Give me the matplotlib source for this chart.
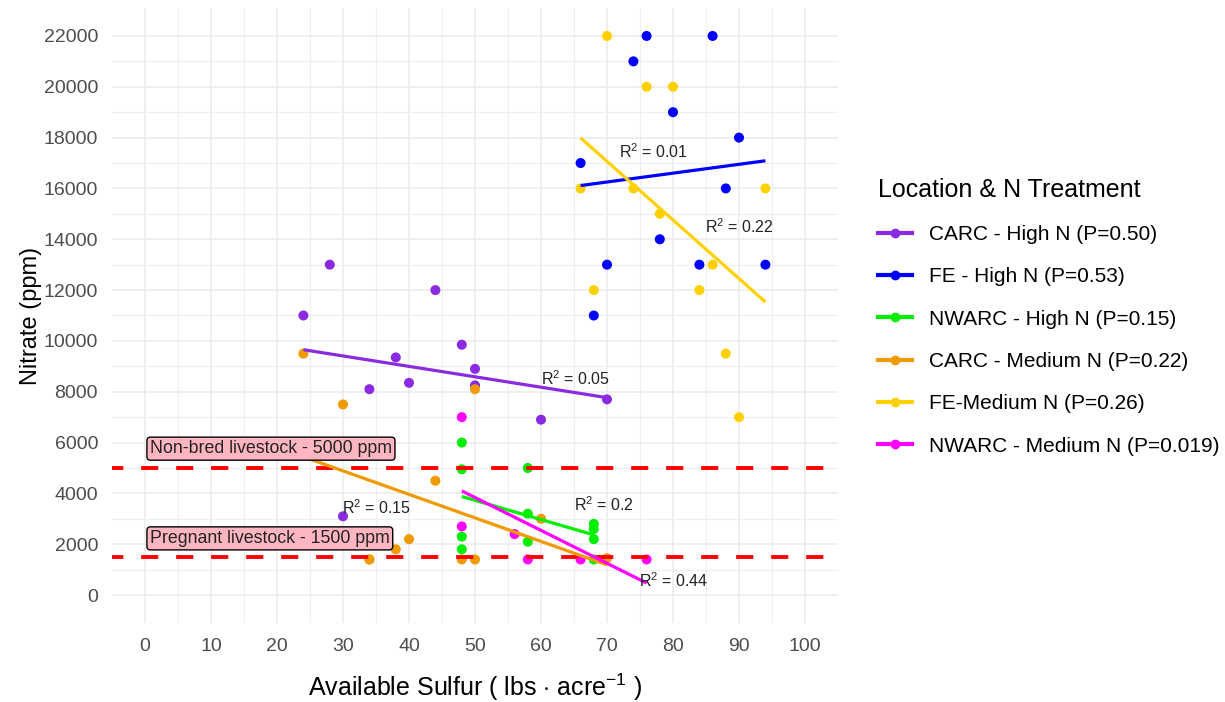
import numpy as np
import matplotlib
matplotlib.use('Agg')
import matplotlib.pyplot as plt
from matplotlib.lines import Line2D

plt.rcParams['font.family'] = ['Liberation Sans', 'DejaVu Sans']
plt.rcParams['mathtext.fontset'] = 'custom'
plt.rcParams['mathtext.rm'] = 'Liberation Sans'
plt.rcParams['mathtext.it'] = 'Liberation Sans'

# available sulfur (lbs/acre) and nitrate (ppm) per location / N treatment
carc_high_s = [24, 28, 30, 34, 38, 40, 44, 48, 50, 50, 60, 70]
carc_high_n = [11000, 13000, 3100, 8100, 9350, 8350, 12000, 9850, 8900, 8250, 6900, 7700]

fe_high_s = [66, 68, 70, 74, 76, 78, 80, 84, 86, 88, 90, 94]
fe_high_n = [17000, 11000, 13000, 21000, 22000, 14000, 19000, 13000, 22000, 16000, 18000, 13000]

nwarc_high_s = [48, 48, 48, 48, 58, 58, 58, 68, 68, 68, 68]
nwarc_high_n = [6000, 4950, 2300, 1800, 5000, 3200, 2100, 2800, 2600, 2200, 1400]

carc_med_s = [24, 30, 34, 34, 38, 40, 44, 48, 50, 50, 60, 70]
carc_med_n = [9500, 7500, 1400, 1400, 1800, 2200, 4500, 1400, 1400, 8100, 3000, 1450]

fe_med_s = [66, 68, 70, 74, 76, 78, 80, 84, 86, 88, 90, 94]
fe_med_n = [16000, 12000, 22000, 16000, 20000, 15000, 20000, 12000, 13000, 9500, 7000, 16000]

nwarc_med_s = [48, 48, 56, 58, 66, 76]
nwarc_med_n = [7000, 2700, 2400, 1400, 1400, 1400]

group_names = ['CARC - High N (P=0.50)', 'FE - High N (P=0.53)', 'NWARC - High N (P=0.15)',
               'CARC - Medium N (P=0.22)', 'FE-Medium N (P=0.26)', 'NWARC - Medium N (P=0.019)']
group_colors = ['#8A2BE2', '#0000FF', '#00EE00', '#EE9A00', '#FFD000', '#FF00FF']
r2_labels = ['0.05', '0.01', '0.2', '0.15', '0.22', '0.44']

thresholds = [5000, 1500]
threshold_labels = ['Non-bred livestock - 5000 ppm', 'Pregnant livestock - 1500 ppm']

groups = [(carc_high_s, carc_high_n), (fe_high_s, fe_high_n), (nwarc_high_s, nwarc_high_n),
          (carc_med_s, carc_med_n), (fe_med_s, fe_med_n), (nwarc_med_s, nwarc_med_n)]

fig = plt.figure(figsize=(12.25, 7.02), dpi=100)
ax = fig.add_axes([112 / 1225, 79 / 702, 726 / 1225, 615 / 702])

ax.set_xlim(-5, 105)
ax.set_ylim(-1100, 23100)
ax.set_xticks(np.arange(0, 101, 10))
ax.set_xticks(np.arange(5, 101, 10), minor=True)
ax.set_yticks(np.arange(0, 22001, 2000))
ax.set_yticks(np.arange(1000, 23000, 2000), minor=True)
ax.grid(which='major', color='#EBEBEB', lw=1.1)
ax.grid(which='minor', color='#EFEFEF', lw=0.8)
ax.set_axisbelow(True)
for sp in ax.spines.values():
    sp.set_visible(False)
ax.tick_params(which='both', length=0)
ax.tick_params(axis='x', labelsize=14, labelcolor='#4D4D4D', pad=11)
ax.tick_params(axis='y', labelsize=14, labelcolor='#4D4D4D', pad=10)

# threshold lines
for t in thresholds:
    ax.axhline(t, color='#FF0000', lw=2.8, ls=(1.5, (4.4, 4.6)), zorder=4)

# scatter points, then linear fits on top
for (s, n), c in zip(groups, group_colors):
    ax.scatter(s, n, s=52, color=c, edgecolors='none', zorder=3)
for (s, n), c in zip(groups, group_colors):
    slope, icpt = np.polyfit(s, n, 1)
    xs = np.array([min(s), max(s)])
    ax.plot(xs, icpt + slope * xs, color=c, lw=2.3, zorder=5, solid_capstyle='butt')

# R-squared annotations
r2_pos = [(65.2, 8520), (77.0, 17460), (69.5, 3550), (35.1, 3440), (90.1, 14490), (80.1, 550)]
for (x, y), r in zip(r2_pos, r2_labels):
    ax.text(x, y, r'$\mathrm{R}^{2}$' + ' = ' + r,
            ha='center', va='center', fontsize=11.5, color='#222222', zorder=6)

# threshold labels
for t, lab, yc in zip(thresholds, threshold_labels, [5760, 2230]):
    ax.text(0.75, yc, lab, ha='left', va='center', fontsize=12.8, color='#222222', zorder=7,
            bbox=dict(boxstyle='round,pad=0.17,rounding_size=0.2', fc='#FFB6C1', ec='black', lw=1.0))

ax.set_xlabel('Available Sulfur ( lbs $\\cdot$ acre$^{-1}$ )', fontsize=18, labelpad=12)
ax.set_ylabel('Nitrate (ppm)', fontsize=17, labelpad=1)

handles = [Line2D([0], [0], color=c, lw=3, marker='o', markersize=6) for c in group_colors]
leg = fig.legend(handles, group_names, loc='upper left', bbox_to_anchor=(859 / 1225, 1 - 159 / 702),
                 title='Location & N Treatment', title_fontsize=18, fontsize=15, frameon=False,
                 handlelength=1.65, handletextpad=0.8, labelspacing=1.12, alignment='left')

fig.savefig('out.png', dpi=100)
